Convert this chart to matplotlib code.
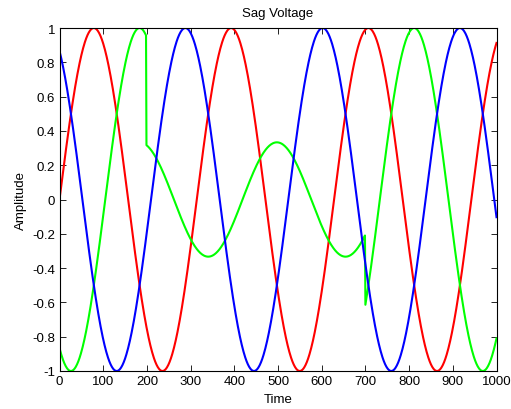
import numpy as np
import matplotlib
matplotlib.use("Agg")
import matplotlib.pyplot as plt

plt.rcParams['font.family'] = ['Liberation Sans', 'DejaVu Sans']

# Parameters
n_samples = 1000            # time axis 0..1000
omega = 0.02                # rad per time unit (period ~314)
phases_deg = {"red": 0.0, "blue": 120.0, "green": -120.0}
amplitude = 1.0
sag_start = 199             # green phase sags here
sag_end = 700               # and recovers here
sag_factor = 1 / 3          # sagged amplitude
series_order = ["red", "green", "blue"]
series_colors = {"red": "#FF0000", "green": "#00FF00", "blue": "#0000FF"}

x_ticks = [0, 100, 200, 300, 400, 500, 600, 700, 800, 900, 1000]
y_ticks = [-1, -0.8, -0.6, -0.4, -0.2, 0, 0.2, 0.4, 0.6, 0.8, 1]
y_tick_labels = ["-1", "-0.8", "-0.6", "-0.4", "-0.2", "0", "0.2", "0.4", "0.6", "0.8", "1"]

t = np.arange(0, n_samples + 1)
signals = {}
for name, ph in phases_deg.items():
    signals[name] = amplitude * np.sin(omega * t + np.deg2rad(ph))
sag_mask = (t >= sag_start) & (t < sag_end)
signals["green"] = np.where(sag_mask, signals["green"] * sag_factor, signals["green"])

fig = plt.figure(figsize=(5.11, 4.10), dpi=100)
ax = fig.add_axes([59.5 / 511, 1 - 372 / 410, 437 / 511, 343 / 410])
for name in series_order:
    ax.plot(t, signals[name], color=series_colors[name], linewidth=1.5)

ax.set_xlim(0, 1000)
ax.set_ylim(-1, 1)
ax.set_xticks(x_ticks)
ax.set_yticks(y_ticks)
ax.set_yticklabels(y_tick_labels)
ax.tick_params(direction='in', top=True, right=True, labelsize=9.5, length=4, width=0.6, pad=3)
for s in ax.spines.values():
    s.set_linewidth(0.8)
ax.set_title("Sag Voltage", fontsize=9.5, pad=9)
ax.set_xlabel("Time", fontsize=9.5, labelpad=4)
ax.set_ylabel("Amplitude", fontsize=9.5, labelpad=4)

fig.savefig("out.png", dpi=100)
